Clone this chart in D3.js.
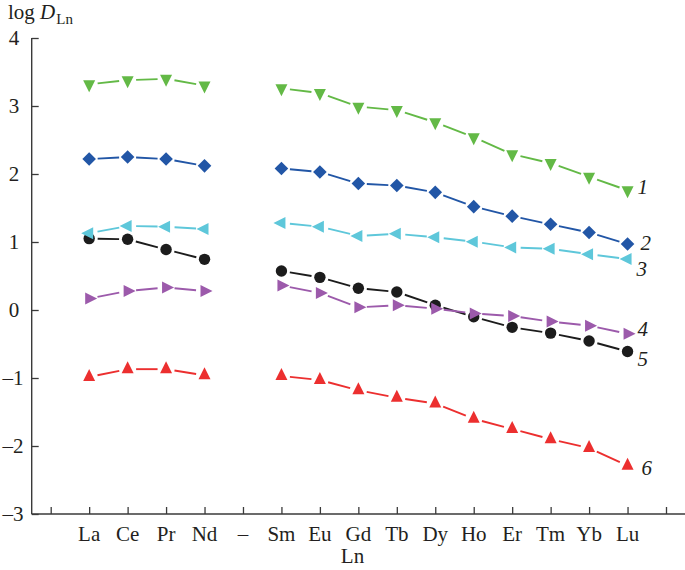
<!DOCTYPE html>
<html><head><meta charset="utf-8">
<script src="https://cdn.jsdelivr.net/npm/d3@7"></script>
<style>body{margin:0;background:#fff}svg{display:block}</style>
</head><body>
<svg id="c" width="685" height="570"></svg>
<script>
const categories = ["_a","La","Ce","Pr","Nd","–","Sm","Eu","Gd","Tb","Dy","Ho","Er","Tm","Yb","Lu","_b"];
const elements = ["La","Ce","Pr","Nd","–","Sm","Eu","Gd","Tb","Dy","Ho","Er","Tm","Yb","Lu"];
const yTicks = [4,3,2,1,0,-1,-2,-3];
const s1 = [3.32,3.38,3.40,3.30,null,3.26,3.19,2.99,2.94,2.76,2.54,2.29,2.16,1.96,1.76];
const s2 = [2.22,2.25,2.22,2.12,null,2.08,2.03,1.86,1.83,1.73,1.52,1.38,1.26,1.14,0.97];
const s3 = [1.13,1.235,1.225,1.19,null,1.28,1.225,1.09,1.12,1.07,1.005,0.92,0.90,0.82,0.75];
const s4 = [0.17,0.28,0.33,0.28,null,0.36,0.25,0.04,0.07,0.02,-0.05,-0.09,-0.17,-0.23,-0.35];
const s5 = [1.05,1.04,0.89,0.745,null,0.574,0.48,0.32,0.265,0.07,-0.10,-0.255,-0.34,-0.456,-0.61];
const s6 = [-0.985,-0.87,-0.87,-0.96,null,-0.97,-1.03,-1.18,-1.29,-1.375,-1.60,-1.75,-1.90,-2.03,-2.29];
const seriesNames = ["1","2","3","4","5","6"];

const series = [
  {name:"5", vals:s5, color:"#1c1c1c", shape:"circle", ldx:10, ldy:15},
  {name:"6", vals:s6, color:"#ec2f2f", shape:"up", ldx:14, ldy:9},
  {name:"4", vals:s4, color:"#9c5aab", shape:"right", ldx:10, ldy:2},
  {name:"3", vals:s3, color:"#5ec7da", shape:"left", ldx:9, ldy:17},
  {name:"2", vals:s2, color:"#2256a6", shape:"diamond", ldx:13, ldy:6},
  {name:"1", vals:s1, color:"#63b946", shape:"down", ldx:10, ldy:4}
];

const svg = d3.select("#c");
const x = d3.scalePoint().domain(categories).range([50.7, 666]);
const y = d3.scaleLinear().domain([-3, 4]).range([514, 38]);
const axisColor = "#3a3a3a";
const textColor = "#231f20";
const font = "'Liberation Serif','Times New Roman',serif";

// axes lines
svg.append("line").attr("x1",31.7).attr("x2",685).attr("y1",y(-3)).attr("y2",y(-3))
  .attr("stroke",axisColor).attr("stroke-width",1.4);
svg.append("line").attr("x1",31.7).attr("x2",31.7).attr("y1",y(4)).attr("y2",y(-3))
  .attr("stroke",axisColor).attr("stroke-width",1.4);

// x axis ticks
const xa = svg.append("g").attr("transform",`translate(0,${y(-3)})`)
  .call(d3.axisBottom(x).tickSizeInner(-7).tickSizeOuter(0).tickPadding(0).tickFormat(""));
xa.select(".domain").remove();
xa.selectAll(".tick line").attr("stroke",axisColor).attr("stroke-width",1.3);
// x labels
svg.append("g").selectAll("text").data(elements).join("text")
  .attr("x",d=>x(d)).attr("y",541).attr("text-anchor","middle")
  .attr("font-family",font).attr("font-size",21).attr("fill",textColor).text(d=>d);
svg.append("text").attr("x",352.5).attr("y",563).attr("text-anchor","middle")
  .attr("font-family",font).attr("font-size",21).attr("fill",textColor).text("Ln");

// y axis ticks
const ya = svg.append("g").attr("transform","translate(31.7,0)")
  .call(d3.axisLeft(y).tickValues(yTicks).tickSizeInner(-7).tickSizeOuter(0).tickFormat(""));
ya.select(".domain").remove();
ya.selectAll(".tick line").attr("stroke",axisColor).attr("stroke-width",1.3);
svg.append("g").selectAll("text").data(yTicks).join("text")
  .attr("x",d=>d<0?13:14).attr("y",d=>y(d)).attr("dy","0.35em").attr("text-anchor","middle")
  .attr("font-family",font).attr("font-size",21).attr("fill",textColor)
  .text(d=>d<0?"\u2013"+Math.abs(d):String(d));

// title
const t = svg.append("text").attr("x",8).attr("y",19).attr("font-family",font)
  .attr("font-size",21).attr("fill",textColor);
t.append("tspan").text("log ");
t.append("tspan").attr("font-style","italic").text("D");
t.append("tspan").attr("font-size",15).attr("dy",5).attr("dx",1).text("Ln");

function shapePath(s){
  const h=12, w=12;
  switch(s){
    case "down": return `M${-w/2},${-h/3}L${w/2},${-h/3}L0,${2*h/3}Z`;
    case "up": return `M${-w/2},${h/3}L${w/2},${h/3}L0,${-2*h/3}Z`;
    case "left": return `M${w/3},${-h/2}L${w/3},${h/2}L${-2*w/3},0Z`;
    case "right": return `M${-w/3},${-h/2}L${-w/3},${h/2}L${2*w/3},0Z`;
    case "diamond": return `M0,-6.8L6.8,0L0,6.8L-6.8,0Z`;
    case "circle": return d3.symbol(d3.symbolCircle, Math.PI*5.7*5.7)();
  }
}

const gap = 8.5;
series.forEach(s=>{
  const pts = elements.map((e,i)=>({e, v:s.vals[i]}));
  const g = svg.append("g");
  const segs = [];
  for(let i=0;i<pts.length-1;i++){
    const a=pts[i], b=pts[i+1];
    if(a.v==null||b.v==null) continue;
    segs.push([a,b]);
  }
  g.selectAll("line").data(segs).join("line")
    .each(function([a,b]){
      const x1=x(a.e), y1=y(a.v), x2=x(b.e), y2=y(b.v);
      const L=Math.hypot(x2-x1,y2-y1), ux=(x2-x1)/L, uy=(y2-y1)/L;
      d3.select(this).attr("x1",x1+ux*gap).attr("y1",y1+uy*gap)
        .attr("x2",x2-ux*gap).attr("y2",y2-uy*gap);
    })
    .attr("stroke",s.color).attr("stroke-width",1.9);
  g.selectAll("path").data(pts.filter(p=>p.v!=null)).join("path")
    .attr("d",shapePath(s.shape))
    .attr("transform",p=>`translate(${x(p.e)},${y(p.v)})`)
    .attr("fill",s.color);
  const last = pts[pts.length-1];
  svg.append("text").attr("x",x(last.e)+s.ldx).attr("y",y(last.v)+s.ldy)
    .attr("font-family",font).attr("font-style","italic").attr("font-size",21)
    .attr("fill",textColor).text(s.name);
});
</script>
</body></html>
